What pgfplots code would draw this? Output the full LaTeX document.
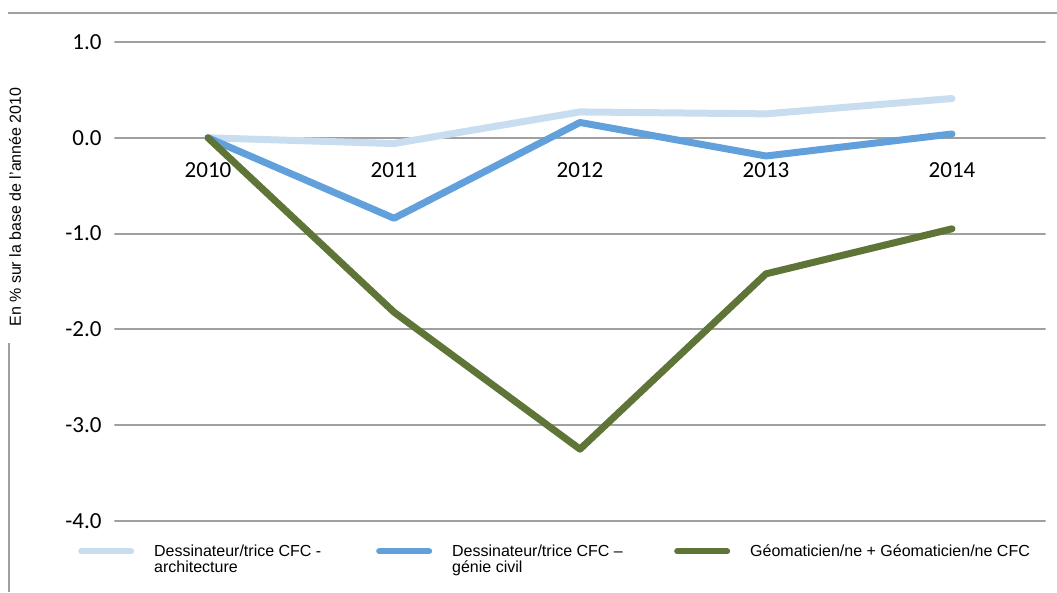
\documentclass[border=0pt]{standalone}
\usepackage{pgfplots}
\pgfplotsset{compat=1.18}
\usepackage{fontspec}
\setmainfont{Liberation Sans}
\newfontfamily\calibri{Carlito}
\definecolor{arch}{HTML}{C9DDF0}
\definecolor{civil}{HTML}{62A0DB}
\definecolor{geo}{HTML}{5E7537}
\definecolor{gridc}{HTML}{A0A0A0}
\begin{document}
\begin{tikzpicture}
\useasboundingbox (-115pt,-71pt) rectangle (942pt,521pt);
\draw[gridc, line width=1.5pt] (-107pt,508pt) -- (942pt,508pt);
\draw[gridc, line width=1.5pt] (-106pt,178pt) -- (-106pt,-71pt);
\begin{axis}[
  scale only axis, width=930pt, height=479pt,
  xmin=-0.5, xmax=4.5, ymin=-4, ymax=1,
  axis x line=middle, axis y line=left,
  axis line style={draw=none},
  hide obscured x ticks=false, hide obscured y ticks=false,
  xtick={0,1,2,3,4}, xticklabels={2010,2011,2012,2013,2014},
  ytick={-4,-3,-2,-1,0,1},
  ymajorgrids, major grid style={gridc, line width=2pt},
  major tick length=0pt, tick style={draw=none},
  /pgf/number format/assume math mode=true,
  y tick label style={/pgf/number format/fixed, /pgf/number format/fixed zerofill, /pgf/number format/precision=1, xshift=-10pt},
  x tick label style={anchor=north, yshift=-21pt},
  ticklabel style={font=\calibri\fontsize{23}{23}\selectfont},
  ylabel={En \% sur la base de l'année 2010},
  ylabel style={at={(axis description cs:-0.1075,0.6555)}, anchor=center, rotate=0, font=\fontsize{16}{16}\selectfont},
  legend columns=3,
  legend cell align=left,
  legend style={at={(axis description cs:-0.0398,-0.045)}, anchor=north west, draw=none, fill=none, inner sep=0pt,
    font=\fontsize{16}{16}\selectfont,
    /tikz/every odd column/.append style={column sep=18pt},
    /tikz/every even column/.append style={column sep=22pt}},
  legend image code/.code={\draw[#1, line width=6pt, line cap=round] (0pt,0pt) -- (50pt,0pt);},
  line cap=round, line join=round,
]
\addplot[arch, line width=7pt] coordinates {(0,0) (1,-0.06) (2,0.27) (3,0.25) (4,0.41)};
\addlegendentry{\parbox[t]{198pt}{Dessinateur/trice CFC -\\architecture}}
\addplot[civil, line width=7pt] coordinates {(0,0) (1,-0.84) (2,0.16) (3,-0.19) (4,0.04)};
\addlegendentry{\parbox[t]{198pt}{Dessinateur/trice CFC –\\génie civil}}
\addplot[geo, line width=7pt] coordinates {(0,0) (1,-1.82) (2,-3.25) (3,-1.42) (4,-0.95)};
\addlegendentry{\parbox[t]{300pt}{Géomaticien/ne + Géomaticien/ne CFC}}
\end{axis}
\end{tikzpicture}
\end{document}
